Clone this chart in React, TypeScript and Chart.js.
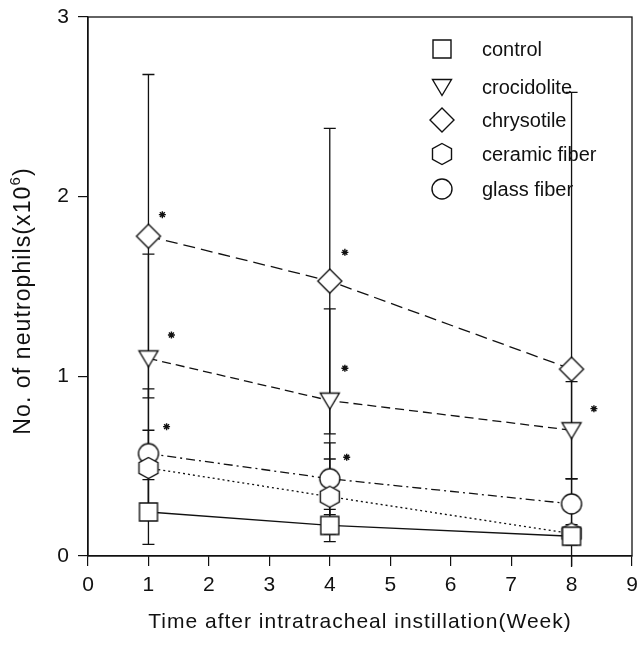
import React, { useEffect, useRef } from 'react';
import { Chart, registerables } from 'chart.js';

Chart.register(...registerables);

// ---- data ----
const weeks = [1, 4, 8];
const seriesLabels = ['control', 'crocidolite', 'chrysotile', 'ceramic fiber', 'glass fiber'];
const control = [0.245, 0.17, 0.11];
const crocidolite = [1.1, 0.865, 0.7];
const chrysotile = [1.78, 1.53, 1.04];
const ceramicFiber = [0.49, 0.33, 0.125];
const glassFiber = [0.57, 0.43, 0.29];
const controlSD = [0.18, 0.09, 0.05];
const crocidoliteSD = [0.58, 0.51, 0.27];
const chrysotileSD = [0.9, 0.85, 1.54];
const ceramicFiberSD = [0.21, 0.21, 0.05];
const glassFiberSD = [0.36, 0.2, 0.14];
// significance asterisks (week, value)
const starWeeks = [1.23, 1.38, 1.3, 4.25, 4.25, 4.28, 8.37];
const starValues = [1.9, 1.23, 0.72, 1.69, 1.045, 0.55, 0.82];
const xAxisTitle = 'Time after intratracheal instillation(Week)';
const yAxisTitleMain = 'No. of neutrophils(x10';
const yAxisTitleSup = '6';
const yAxisTitleEnd = ')';

const INK = '#111';
const FONT = '"Liberation Sans", Arial, sans-serif';

function makeMarker(kind: string): HTMLCanvasElement {
  const c = document.createElement('canvas');
  c.width = 28;
  c.height = 28;
  const g = c.getContext('2d') as CanvasRenderingContext2D;
  g.translate(14, 14);
  g.beginPath();
  switch (kind) {
    case 'square':
      g.rect(-9, -9, 18, 18);
      break;
    case 'triangleDown':
      g.moveTo(-9.5, -7.5);
      g.lineTo(9.5, -7.5);
      g.lineTo(0, 8.5);
      g.closePath();
      break;
    case 'diamond':
      g.moveTo(0, -12);
      g.lineTo(12, 0);
      g.lineTo(0, 12);
      g.lineTo(-12, 0);
      g.closePath();
      break;
    case 'hexagon':
      g.moveTo(0, -10.5);
      g.lineTo(9.5, -5.25);
      g.lineTo(9.5, 5.25);
      g.lineTo(0, 10.5);
      g.lineTo(-9.5, 5.25);
      g.lineTo(-9.5, -5.25);
      g.closePath();
      break;
    default:
      g.arc(0, 0, 10, 0, Math.PI * 2);
  }
  g.fillStyle = '#fff';
  g.fill();
  g.lineWidth = 1.4;
  g.strokeStyle = INK;
  g.stroke();
  return c;
}

export default function App() {
  const ref = useRef<HTMLCanvasElement | null>(null);

  useEffect(() => {
    document.body.style.margin = '0';
    const canvas = ref.current;
    if (!canvas) return;

    const values = [control, crocidolite, chrysotile, ceramicFiber, glassFiber];
    const sds = [controlSD, crocidoliteSD, chrysotileSD, ceramicFiberSD, glassFiberSD];
    const kinds = ['square', 'triangleDown', 'diamond', 'hexagon', 'circle'];
    const dashes = [[], [9, 5], [12, 6], [2, 3], [9, 4, 2, 4]];
    const markers = kinds.map(makeMarker);

    const seriesDatasets = values.map((vals, i) => ({
      type: 'scatter' as const,
      label: seriesLabels[i],
      data: vals.map((v, j) => ({ x: weeks[j], y: v })),
      showLine: true,
      borderColor: INK,
      borderWidth: 1.3,
      borderDash: dashes[i],
      backgroundColor: '#fff',
      pointStyle: markers[i],
      pointRadius: 10,
      pointHoverRadius: 10,
      order: 0,
    }));

    const starDataset = {
      type: 'scatter' as const,
      label: 'significance',
      data: starWeeks.map((w, i) => ({ x: w, y: starValues[i] })),
      showLine: false,
      pointStyle: 'star',
      pointRadius: 3.5,
      borderColor: INK,
      borderWidth: 1.4,
      backgroundColor: INK,
      order: 1,
    };

    const errorBars = {
      id: 'errorBars',
      beforeDatasetsDraw(chart: any) {
        const { ctx, chartArea: a, scales } = chart;
        const xs = scales.x;
        const ys = scales.y;
        ctx.save();
        ctx.beginPath();
        ctx.rect(a.left, a.top, a.right - a.left, a.bottom - a.top + 11);
        ctx.clip();
        ctx.strokeStyle = INK;
        ctx.lineWidth = 1.3;
        values.forEach((vals, i) => {
          vals.forEach((v, j) => {
            const px = xs.getPixelForValue(weeks[j]);
            const top = ys.getPixelForValue(v + sds[i][j]);
            const bot = ys.getPixelForValue(v - sds[i][j]);
            ctx.beginPath();
            ctx.moveTo(px, top);
            ctx.lineTo(px, bot);
            ctx.moveTo(px - 6, top);
            ctx.lineTo(px + 6, top);
            if (bot <= a.bottom) {
              ctx.moveTo(px - 6, bot);
              ctx.lineTo(px + 6, bot);
            }
            ctx.stroke();
          });
        });
        ctx.restore();
      },
    };

    const decorations = {
      id: 'decorations',
      afterDraw(chart: any) {
        const { ctx, chartArea: a } = chart;
        ctx.save();
        // frame (top & right)
        ctx.strokeStyle = INK;
        ctx.lineWidth = 1.3;
        ctx.strokeRect(a.left, a.top, a.right - a.left, a.bottom - a.top);

        // legend
        const rows = [49, 87, 120, 154, 189];
        ctx.fillStyle = INK;
        ctx.font = '20px ' + FONT;
        ctx.textAlign = 'left';
        ctx.textBaseline = 'middle';
        markers.forEach((m, i) => {
          ctx.drawImage(m, 442 - m.width / 2, rows[i] - m.height / 2);
          ctx.fillText(seriesLabels[i], 482, rows[i] + 1);
        });

        // x title
        (ctx as any).letterSpacing = '1px';
        ctx.font = '21px ' + FONT;
        ctx.textAlign = 'center';
        ctx.textBaseline = 'middle';
        ctx.fillText(xAxisTitle, (a.left + a.right) / 2, 622);

        // y title (rotated) with superscript
        (ctx as any).letterSpacing = '1.1px';
        ctx.translate(24, 301);
        ctx.rotate(-Math.PI / 2);
        ctx.textAlign = 'left';
        ctx.font = '23px ' + FONT;
        const w1 = ctx.measureText(yAxisTitleMain).width;
        const w3 = ctx.measureText(yAxisTitleEnd).width;
        ctx.font = '15px ' + FONT;
        const w2 = ctx.measureText(yAxisTitleSup).width;
        const start = -(w1 + w2 + w3) / 2;
        ctx.font = '23px ' + FONT;
        ctx.fillText(yAxisTitleMain, start, 0);
        ctx.font = '15px ' + FONT;
        ctx.fillText(yAxisTitleSup, start + w1, -8);
        ctx.font = '23px ' + FONT;
        ctx.fillText(yAxisTitleEnd, start + w1 + w2, 0);
        ctx.restore();
      },
    };

    const chart = new Chart(canvas, {
      type: 'scatter',
      data: { datasets: [...seriesDatasets, starDataset] as any },
      options: {
        responsive: false,
        animation: false,
        events: [],
        layout: { autoPadding: false, padding: { top: 17, right: 6, left: 0, bottom: 0 } },
        plugins: {
          legend: { display: false },
          tooltip: { enabled: false },
          title: { display: false },
        },
        scales: {
          x: {
            type: 'linear',
            min: 0,
            max: 9,
            afterFit(scale: any) {
              scale.height = 92;
              scale.paddingRight = 0;
              scale.paddingLeft = 0;
            },
            ticks: {
              stepSize: 1,
              color: INK,
              padding: 7,
              font: { family: FONT, size: 21 },
            },
            grid: {
              display: true,
              drawOnChartArea: false,
              drawTicks: true,
              tickLength: 10,
              color: INK,
              lineWidth: 1.2,
            },
            border: { display: true, color: INK, width: 1.3 },
            title: { display: false },
          },
          y: {
            type: 'linear',
            min: 0,
            max: 3,
            afterFit(scale: any) {
              scale.width = 88;
              scale.paddingTop = 0;
              scale.paddingBottom = 0;
            },
            ticks: {
              stepSize: 1,
              color: INK,
              padding: 9,
              font: { family: FONT, size: 21 },
            },
            grid: {
              display: true,
              drawOnChartArea: false,
              drawTicks: true,
              tickLength: 10,
              color: INK,
              lineWidth: 1.2,
            },
            border: { display: true, color: INK, width: 1.3 },
            title: { display: false },
          },
        },
      } as any,
      plugins: [errorBars, decorations],
    });

    return () => {
      chart.destroy();
    };
  }, []);

  return (
    <div style={{ width: 638, height: 648 }}>
      <canvas ref={ref} width={638} height={648} />
    </div>
  );
}
